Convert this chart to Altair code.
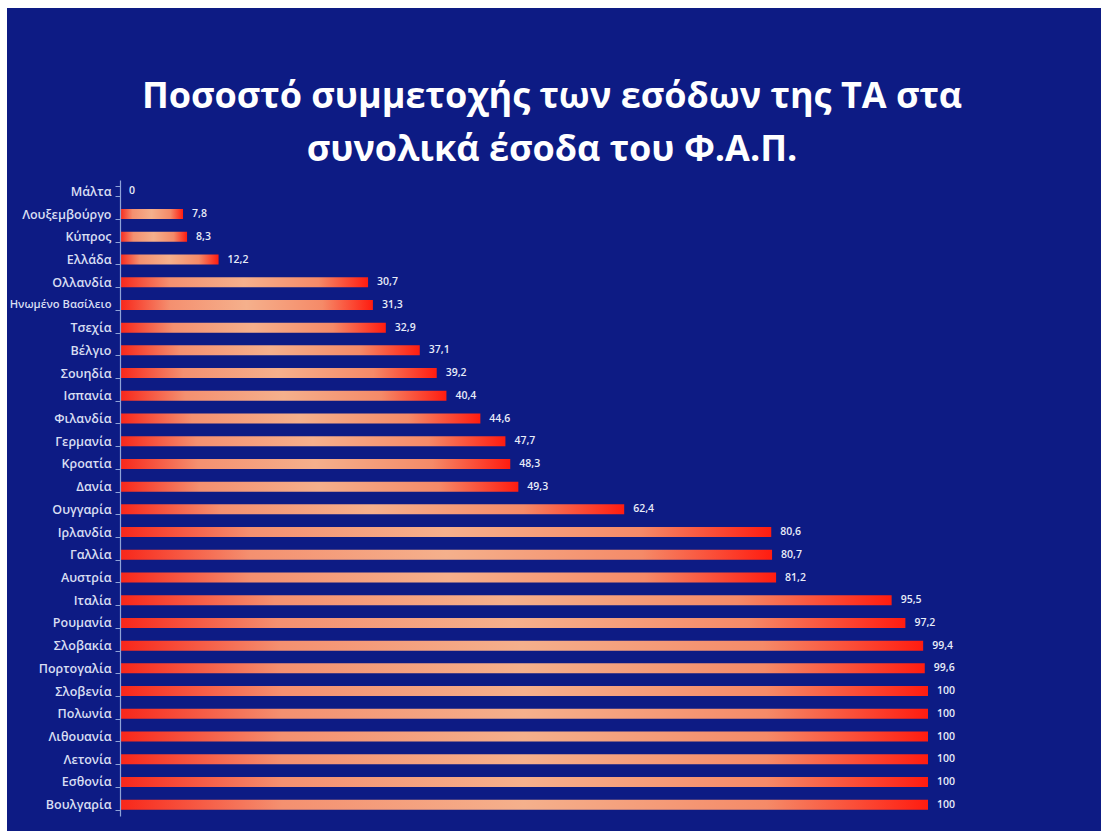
import altair as alt
import pandas as pd

countries = ["Μάλτα", "Λουξεμβούργο", "Κύπρος", "Ελλάδα", "Ολλανδία", "Ηνωμένο Βασίλειο",
             "Τσεχία", "Βέλγιο", "Σουηδία", "Ισπανία", "Φιλανδία", "Γερμανία", "Κροατία",
             "Δανία", "Ουγγαρία", "Ιρλανδία", "Γαλλία", "Αυστρία", "Ιταλία", "Ρουμανία",
             "Σλοβακία", "Πορτογαλία", "Σλοβενία", "Πολωνία", "Λιθουανία", "Λετονία",
             "Εσθονία", "Βουλγαρία"]
values = [0, 7.8, 8.3, 12.2, 30.7, 31.3, 32.9, 37.1, 39.2, 40.4, 44.6, 47.7, 48.3, 49.3,
          62.4, 80.6, 80.7, 81.2, 95.5, 97.2, 99.4, 99.6, 100, 100, 100, 100, 100, 100]
labels = ["0", "7,8", "8,3", "12,2", "30,7", "31,3", "32,9", "37,1", "39,2", "40,4", "44,6",
          "47,7", "48,3", "49,3", "62,4", "80,6", "80,7", "81,2", "95,5", "97,2", "99,4",
          "99,6", "100", "100", "100", "100", "100", "100"]
title_lines = ["Ποσοστό συμμετοχής των εσόδων της ΤΑ στα", "συνολικά έσοδα του Φ.Α.Π."]

df = pd.DataFrame({"country": countries, "value": values, "label": labels})

BG = "#0d1b84"
W, H = 808, 636
PAD = {"left": 120, "top": 180, "right": 1101 - 120 - W, "bottom": 831 - 180 - H}

bg = alt.Chart(pd.DataFrame({"a": [0]})).mark_rect(color=BG).encode(
    x=alt.value(7 - PAD["left"]), x2=alt.value(1101 - PAD["left"]),
    y=alt.value(8 - PAD["top"]), y2=alt.value(831 - PAD["top"]),
)

label_size = {"condition": {"test": "length(datum.label) > 13", "value": 11.2}, "value": 12.5}

y_enc = alt.Y("country:N", sort=countries, scale=alt.Scale(paddingInner=0.56, paddingOuter=0.28),
              axis=alt.Axis(title=None, labelColor="#d8def2", labelFontSize=label_size,
                            labelFont="Open Sans", labelFontWeight=600, labelPadding=4,
                            domainColor="#8fa3d8", domainWidth=1.2, tickColor="#8fa3d8",
                            tickSize=5, tickBand="extent", tickWidth=1, zindex=2))
x_enc = alt.X("value:Q", scale=alt.Scale(domain=[0, 100], nice=False), axis=None)

grad = alt.Gradient(
    gradient="linear", x1=0, x2=1, y1=0, y2=0,
    stops=[alt.GradientStop(color="#f8261a", offset=0),
           alt.GradientStop(color="#f49070", offset=0.2),
           alt.GradientStop(color="#f5b08c", offset=0.5),
           alt.GradientStop(color="#f58a68", offset=0.8),
           alt.GradientStop(color="#ff1c10", offset=1)],
)

bars = alt.Chart(df).mark_bar(color=grad).encode(y=y_enc, x=x_enc)

text = alt.Chart(df).mark_text(align="left", dx=9, color="#e8ecf8", fontSize=10.5,
                               font="Open Sans", fontWeight=600).encode(
    y=alt.Y("country:N", sort=countries), x=x_enc, text="label:N")

title_layers = []
for line, ypix in zip(title_lines, [97, 150]):
    title_layers.append(
        alt.Chart(pd.DataFrame({"t": [line]})).mark_text(
            align="center", baseline="middle", color="white", fontSize=36,
            font="Open Sans", fontWeight="bold").encode(
            x=alt.value(552 - PAD["left"]), y=alt.value(ypix - PAD["top"]), text="t:N"))

chart = alt.layer(bg, bars, text, *title_layers).properties(
    width=W, height=H, padding=PAD, autosize=alt.AutoSizeParams(type="none"),
    background="white",
).configure_view(stroke=None)

chart.save("out.html", embed_options={"renderer": "svg", "actions": False})
